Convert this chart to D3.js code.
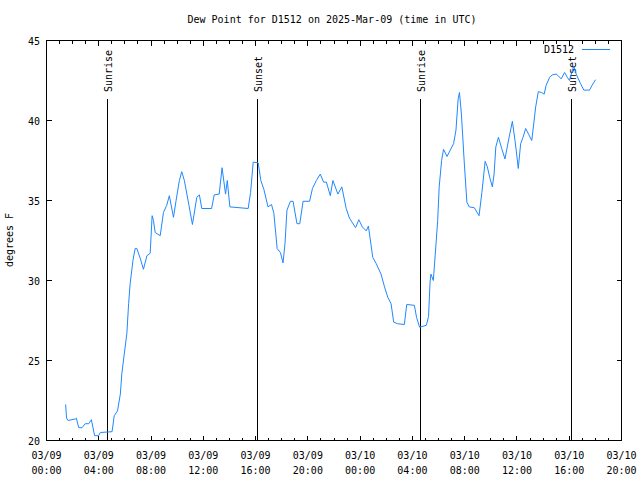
<!DOCTYPE html>
<html>
<head>
<meta charset="utf-8">
<script src="https://cdn.jsdelivr.net/npm/d3@7"></script>
<style>
  html, body { margin: 0; padding: 0; background: #fff; }
  svg { display: block; }
  text { font-family: "DejaVu Sans Mono", "Liberation Mono", monospace; font-size: 10px; fill: #000; }
</style>
</head>
<body>
<svg id="chart" width="640" height="480"></svg>
<script>
const chartTitle = "Dew Point for D1512 on 2025-Mar-09 (time in UTC)";
const yAxisLabel = "degrees F";
const seriesName = "D1512";

const times = [
  "03-09 01:28","03-09 01:32","03-09 01:39","03-09 02:13","03-09 02:17","03-09 02:28","03-09 02:43","03-09 02:58",
  "03-09 03:14","03-09 03:26","03-09 03:41","03-09 03:59","03-09 04:07","03-09 05:01","03-09 05:11","03-09 05:26",
  "03-09 05:39","03-09 05:46","03-09 05:57","03-09 06:09","03-09 06:17","03-09 06:24","03-09 06:37","03-09 06:47",
  "03-09 06:55","03-09 07:10","03-09 07:25","03-09 07:41","03-09 07:56","03-09 08:05","03-09 08:11","03-09 08:19",
  "03-09 08:42","03-09 08:57","03-09 09:12","03-09 09:24","03-09 09:43","03-09 09:55","03-09 10:10","03-09 10:21",
  "03-09 10:33","03-09 10:54","03-09 11:10","03-09 11:30","03-09 11:42","03-09 11:53","03-09 12:38","03-09 12:50",
  "03-09 13:13","03-09 13:26","03-09 13:42","03-09 13:50","03-09 14:02","03-09 15:26","03-09 15:37","03-09 15:49",
  "03-09 16:12","03-09 16:24","03-09 16:38","03-09 16:57","03-09 17:13","03-09 17:24","03-09 17:39","03-09 17:54",
  "03-09 18:06","03-09 18:15","03-09 18:24","03-09 18:40","03-09 18:52","03-09 19:10","03-09 19:23","03-09 19:38",
  "03-09 20:08","03-09 20:21","03-09 20:39","03-09 20:57","03-09 21:12","03-09 21:25","03-09 21:43","03-09 21:55",
  "03-09 22:18","03-09 22:36","03-09 22:56","03-09 23:11","03-09 23:39","03-09 23:54","03-10 00:10","03-10 00:28",
  "03-10 00:38","03-10 00:58","03-10 01:14","03-10 01:36","03-10 01:52","03-10 02:07","03-10 02:22","03-10 02:34",
  "03-10 02:52","03-10 03:23","03-10 03:34","03-10 04:09","03-10 04:19","03-10 04:33","03-10 05:04","03-10 05:14",
  "03-10 05:21","03-10 05:25","03-10 05:36","03-10 05:45","03-10 05:56","03-10 06:03","03-10 06:14","03-10 06:23",
  "03-10 06:39","03-10 06:52","03-10 07:09","03-10 07:20","03-10 07:30","03-10 07:36","03-10 07:45","03-10 07:58",
  "03-10 08:10","03-10 08:21","03-10 08:44","03-10 09:06","03-10 09:19","03-10 09:34","03-10 09:44","03-10 09:55",
  "03-10 10:07","03-10 10:15","03-10 10:23","03-10 10:35","03-10 10:50","03-10 11:05","03-10 11:24","03-10 11:39",
  "03-10 11:51","03-10 11:57","03-10 12:06","03-10 12:17","03-10 12:28","03-10 12:40","03-10 12:55","03-10 13:08",
  "03-10 13:18","03-10 13:26","03-10 13:38","03-10 13:53","03-10 14:05","03-10 14:14","03-10 14:30","03-10 14:42",
  "03-10 15:00","03-10 15:09","03-10 15:23","03-10 15:39","03-10 15:51","03-10 16:01","03-10 16:14","03-10 16:21",
  "03-10 16:32","03-10 16:52","03-10 17:07","03-10 17:33","03-10 17:45","03-10 18:01"
];

const dewPointF = [
  22.25,21.4,21.25,21.35,21.4,20.8,20.8,21.05,
  21.05,21.3,20.3,20.3,20.5,20.55,21.55,21.85,
  22.9,24.2,25.4,26.7,28.55,29.8,31.25,32.0,
  32.0,31.4,30.7,31.55,31.7,34.05,33.75,33.0,
  32.8,34.25,34.7,35.3,33.95,35.0,36.25,36.8,
  36.25,34.7,33.5,35.2,35.35,34.5,34.5,35.35,
  35.4,37.05,35.4,36.25,34.6,34.5,35.5,37.4,
  37.35,36.25,35.7,34.6,34.75,34.2,32.0,31.75,
  31.1,32.3,34.4,34.95,34.95,33.55,33.55,34.95,
  34.95,35.75,36.25,36.65,36.15,36.15,35.3,36.25,
  35.4,35.85,34.5,33.9,33.3,33.8,33.35,33.1,
  33.4,31.45,31.05,30.4,29.6,28.95,28.55,27.4,
  27.3,27.25,28.5,28.45,27.7,27.08,27.2,27.75,
  29.9,30.4,30.0,31.65,33.75,35.85,37.5,38.2,
  37.75,38.1,38.55,39.4,41.35,41.75,40.4,37.4,
  34.9,34.6,34.55,34.05,35.5,37.45,37.1,36.45,
  35.85,36.65,38.35,38.95,38.25,37.6,38.95,39.95,
  38.75,38.1,37.0,38.55,38.95,39.5,39.1,38.75,
  39.9,40.85,41.8,41.75,41.65,42.2,42.7,42.85,
  42.9,42.8,42.6,43.0,42.7,42.5,43.1,43.4,
  42.9,42.3,41.9,41.9,42.2,42.55
];

const eventTimes = ["03-09 04:40", "03-09 16:07", "03-10 04:38", "03-10 16:09"];
const eventLabels = ["Sunrise", "Sunset", "Sunrise", "Sunset"];

const xDomain = ["03-09 00:00", "03-10 20:00"];
const yTicks = [20, 25, 30, 35, 40, 45];

(function () {
const parseT = s => d3.utcParse("%Y-%m-%d %H:%M")("2025-" + s);

const pLeft = 46.5, pRight = 621.5, pTop = 40.5, pBottom = 440.5;

const svg = d3.select("#chart");

const x = d3.scaleUtc().domain(xDomain.map(parseT)).range([pLeft, pRight]);
const y = d3.scaleLinear().domain([20, 45]).range([pBottom, pTop]);

const majorTicks = d3.utcHour.every(4).range(x.domain()[0], d3.utcMinute.offset(x.domain()[1], 1));
const minorTicks = d3.utcHour.every(1).range(x.domain()[0], d3.utcMinute.offset(x.domain()[1], 1));
const px = d => Math.round(x(d) - 0.5) + 0.5;
const py = d => Math.round(y(d) - 0.5) + 0.5;

const gAxes = svg.append("g").attr("stroke", "#000").attr("stroke-width", 1).attr("shape-rendering", "crispEdges");

gAxes.append("g").selectAll("line").data(minorTicks).join("line")
  .attr("x1", px).attr("x2", px).attr("y1", pBottom).attr("y2", pBottom - 3);
gAxes.append("g").selectAll("line").data(minorTicks).join("line")
  .attr("x1", px).attr("x2", px).attr("y1", pTop).attr("y2", pTop + 3);
gAxes.append("g").selectAll("line").data(majorTicks).join("line")
  .attr("x1", px).attr("x2", px).attr("y1", pBottom).attr("y2", pBottom - 5);
gAxes.append("g").selectAll("line").data(majorTicks).join("line")
  .attr("x1", px).attr("x2", px).attr("y1", pTop).attr("y2", pTop + 5);
gAxes.append("g").selectAll("line").data(yTicks).join("line")
  .attr("x1", pLeft).attr("x2", pLeft + 5).attr("y1", py).attr("y2", py);
gAxes.append("g").selectAll("line").data(yTicks).join("line")
  .attr("x1", pRight).attr("x2", pRight - 5).attr("y1", py).attr("y2", py);

gAxes.append("rect").attr("x", pLeft).attr("y", pTop)
  .attr("width", pRight - pLeft).attr("height", pBottom - pTop).attr("fill", "none");

const fmtDate = d3.utcFormat("%m/%d"), fmtTime = d3.utcFormat("%H:%M");
const xl = svg.append("g").attr("text-anchor", "middle");
majorTicks.forEach(d => {
  const t = xl.append("text");
  t.append("tspan").attr("x", x(d)).attr("y", 459).text(fmtDate(d));
  t.append("tspan").attr("x", x(d)).attr("y", 474).text(fmtTime(d));
});

svg.append("g").attr("text-anchor", "end").selectAll("text").data(yTicks).join("text")
  .attr("x", 40).attr("y", d => y(d) + 4).text(d => d);

svg.append("text").attr("text-anchor", "middle")
  .attr("transform", "translate(13,240) rotate(-90)").text(yAxisLabel);

svg.append("text").attr("text-anchor", "middle").attr("x", 332).attr("y", 23).text(chartTitle);

const ev = svg.append("g");
eventTimes.forEach((s, i) => {
  const xp = px(parseT(s));
  ev.append("line").attr("x1", xp).attr("x2", xp).attr("y1", 99).attr("y2", pBottom)
    .attr("stroke", "#000").attr("stroke-width", 1).attr("shape-rendering", "crispEdges");
  ev.append("text").attr("text-anchor", "start")
    .attr("transform", `translate(${xp + 4},92) rotate(-90)`).text(eventLabels[i]);
});

const data = times.map((t, i) => ({ t: parseT(t), v: dewPointF[i] }));
svg.append("path").datum(data)
  .attr("fill", "none").attr("stroke", "#1e88ff").attr("stroke-width", 1)
  .attr("d", d3.line().x(d => x(d.t)).y(d => y(d.v)));

svg.append("text").attr("text-anchor", "end").attr("x", 574).attr("y", 53).text(seriesName);
svg.append("line").attr("x1", 582).attr("x2", 610).attr("y1", 49.5).attr("y2", 49.5)
  .attr("stroke", "#1e88ff").attr("stroke-width", 1);
})();
</script>
</body>
</html>
